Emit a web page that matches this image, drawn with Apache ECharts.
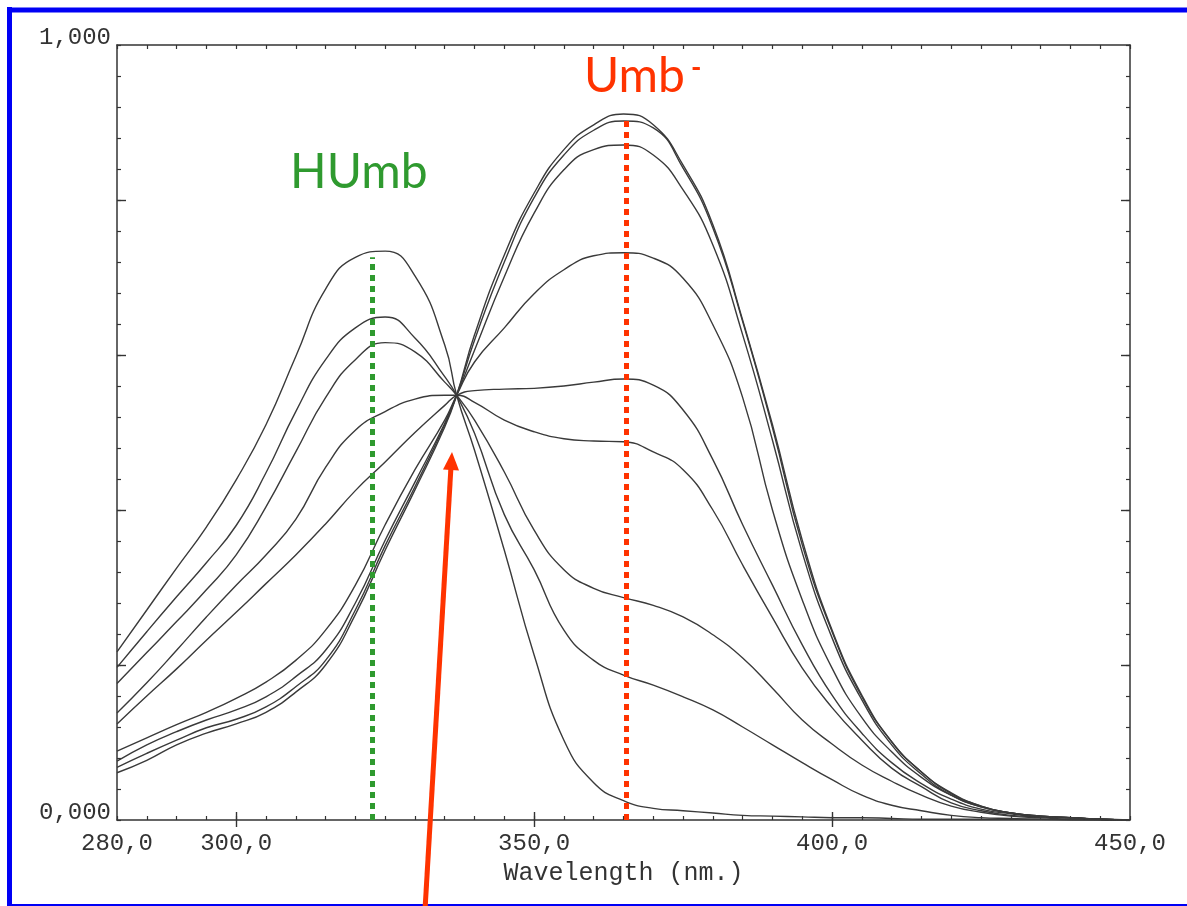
<!DOCTYPE html>
<html>
<head>
<meta charset="utf-8">
<title>Umbelliferone spectra</title>
<script src="https://cdn.jsdelivr.net/npm/echarts@6/dist/echarts.min.js"></script>
<style>
  html, body { margin: 0; padding: 0; background: #fff; }
  #chart { width: 1187px; height: 906px; }
</style>
</head>
<body>
<div id="chart"></div>
<script>
// wavelengths (nm) where the curves were read
const wavelengths = [280, 285, 290, 295, 300, 305, 310, 315, 320, 325, 330, 335, 337, 340, 345, 350, 355, 360, 365, 370, 375, 380, 385, 390, 395, 400, 405, 410, 415, 420, 425, 430, 435, 440, 445, 450]

// absorbance of each spectrum, from acid (HUmb) to basic (Umb-)
const spec1 = [0.217, 0.271, 0.325, 0.378, 0.439, 0.510, 0.598, 0.685, 0.726, 0.734, 0.702, 0.613, 0.548, 0.477, 0.348, 0.213, 0.103, 0.048, 0.025, 0.015, 0.012, 0.009, 0.006, 0.005, 0.004, 0.003, 0.003, 0.002, 0.001, 0.001, 0.001, 0.001, 0.001, 0.000, 0.000, 0.000]
const spec2 = [0.197, 0.243, 0.288, 0.332, 0.380, 0.448, 0.527, 0.594, 0.635, 0.649, 0.622, 0.572, 0.548, 0.499, 0.394, 0.323, 0.245, 0.206, 0.187, 0.174, 0.159, 0.142, 0.120, 0.097, 0.074, 0.052, 0.032, 0.019, 0.012, 0.006, 0.003, 0.002, 0.001, 0.001, 0.000, 0.000]
const spec3 = [0.176, 0.216, 0.256, 0.297, 0.342, 0.404, 0.475, 0.545, 0.594, 0.616, 0.604, 0.565, 0.548, 0.516, 0.449, 0.374, 0.323, 0.299, 0.287, 0.277, 0.262, 0.239, 0.209, 0.170, 0.129, 0.098, 0.071, 0.050, 0.032, 0.018, 0.010, 0.005, 0.003, 0.001, 0.001, 0.000]
const spec4 = [0.138, 0.177, 0.219, 0.262, 0.303, 0.342, 0.388, 0.455, 0.503, 0.527, 0.543, 0.548, 0.548, 0.539, 0.516, 0.501, 0.492, 0.489, 0.488, 0.475, 0.452, 0.400, 0.329, 0.261, 0.196, 0.145, 0.103, 0.067, 0.043, 0.022, 0.012, 0.006, 0.004, 0.003, 0.001, 0.000]
const spec5 = [0.124, 0.160, 0.195, 0.232, 0.268, 0.305, 0.342, 0.382, 0.425, 0.462, 0.500, 0.535, 0.548, 0.554, 0.556, 0.557, 0.560, 0.565, 0.569, 0.561, 0.529, 0.465, 0.381, 0.303, 0.226, 0.161, 0.112, 0.074, 0.047, 0.027, 0.014, 0.008, 0.004, 0.003, 0.001, 0.000]
const spec6 = [0.089, 0.106, 0.123, 0.139, 0.157, 0.178, 0.206, 0.245, 0.303, 0.381, 0.452, 0.516, 0.548, 0.591, 0.635, 0.679, 0.710, 0.728, 0.732, 0.725, 0.699, 0.639, 0.545, 0.400, 0.284, 0.196, 0.132, 0.088, 0.055, 0.032, 0.017, 0.009, 0.005, 0.003, 0.001, 0.000]
const spec7 = [0.076, 0.097, 0.114, 0.129, 0.142, 0.159, 0.185, 0.219, 0.280, 0.361, 0.436, 0.512, 0.548, 0.606, 0.701, 0.783, 0.839, 0.865, 0.871, 0.858, 0.813, 0.742, 0.626, 0.490, 0.345, 0.235, 0.155, 0.097, 0.059, 0.032, 0.017, 0.009, 0.005, 0.003, 0.001, 0.000]
const spec8 = [0.068, 0.086, 0.103, 0.119, 0.130, 0.146, 0.172, 0.206, 0.271, 0.354, 0.430, 0.510, 0.548, 0.619, 0.720, 0.803, 0.858, 0.890, 0.902, 0.893, 0.841, 0.764, 0.643, 0.506, 0.355, 0.243, 0.159, 0.101, 0.062, 0.034, 0.018, 0.009, 0.005, 0.003, 0.001, 0.000]
const spec9 = [0.061, 0.077, 0.097, 0.112, 0.124, 0.139, 0.165, 0.200, 0.265, 0.348, 0.426, 0.507, 0.548, 0.626, 0.729, 0.809, 0.865, 0.897, 0.911, 0.897, 0.845, 0.768, 0.645, 0.510, 0.361, 0.245, 0.161, 0.101, 0.062, 0.035, 0.018, 0.009, 0.005, 0.003, 0.001, 0.000]

const spectra = [spec1, spec2, spec3, spec4, spec5, spec6, spec7, spec8, spec9]

// tick labels
const xLabels = [280, 300, 350, 400, 450]
const xMajor = [300, 350, 400]
const yLabels = [0, 1]
const yMajor = [0.2, 0.4, 0.6, 0.8]

// marker lines: [wavelength, top absorbance]
const humbLine = [322.8, 0.726]
const umbLine = [365.5, 0.907]

const axisColor = '#333'
const mono = "'Liberation Mono', 'DejaVu Sans Mono', monospace"

const chart = echarts.init(document.getElementById('chart'), null, { renderer: 'canvas' })

const xBase = {
  type: 'value',
  min: 280,
  max: 450,
  interval: 5,
  splitLine: { show: false },
  axisLine: { show: true, onZero: false, lineStyle: { color: axisColor, width: 1.5 } },
  axisTick: { show: true, inside: true, length: 4, lineStyle: { color: axisColor, width: 1.2 } },
  axisLabel: { show: false }
}
const yBase = {
  type: 'value',
  min: 0,
  max: 1,
  interval: 0.04,
  splitLine: { show: false },
  axisLine: { show: true, onZero: false, lineStyle: { color: axisColor, width: 1.5 } },
  axisTick: { show: true, inside: true, length: 4, lineStyle: { color: axisColor, width: 1.2 } },
  axisLabel: { show: false }
}

const series = spectra.map((vals, i) => ({
  name: 'spectrum ' + (i + 1),
  type: 'line',
  xAxisIndex: 0,
  yAxisIndex: 0,
  data: wavelengths.map((w, j) => [w, vals[j]]),
  showSymbol: false,
  smooth: 0.5,
  lineStyle: { color: '#3a3a3a', width: 1.4 },
  z: 3
}))

// dotted marker lines for the two absorption maxima
series[0].markLine = {
  silent: true,
  symbol: ['none', 'none'],
  label: { show: false },
  z: 5,
  data: [
    [
      { coord: [humbLine[0], 0], lineStyle: { color: '#2f9a2f', width: 5, type: [6, 5] } },
      { coord: [humbLine[0], humbLine[1]] }
    ],
    [
      { coord: [umbLine[0], 0], lineStyle: { color: '#ff3300', width: 5, type: [6, 5] } },
      { coord: [umbLine[0], umbLine[1]] }
    ]
  ]
}

const option = {
  animation: false,
  backgroundColor: '#fff',
  grid: { left: 117, top: 45, width: 1013, height: 775 },
  xAxis: [
    Object.assign({}, xBase, {
      position: 'bottom',
      name: 'Wavelength (nm.)',
      nameLocation: 'middle',
      nameGap: 26,
      nameTextStyle: { fontFamily: mono, fontSize: 25, color: '#333' },
      axisLabel: {
        show: true,
        customValues: xLabels,
        margin: 12,
        fontFamily: mono,
        fontSize: 24,
        color: '#333',
        formatter: v => v.toFixed(1).replace('.', ',')
      }
    }),
    Object.assign({}, xBase, { position: 'top' }),
    Object.assign({}, xBase, {
      position: 'bottom',
      axisLine: { show: false },
      axisTick: { show: true, inside: true, length: 8, customValues: xMajor, lineStyle: { color: axisColor, width: 1.4 } }
    }),
    Object.assign({}, xBase, {
      position: 'top',
      axisLine: { show: false },
      axisTick: { show: true, inside: true, length: 7, customValues: xMajor, lineStyle: { color: axisColor, width: 1.4 } }
    })
  ],
  yAxis: [
    Object.assign({}, yBase, {
      position: 'left',
      axisLabel: {
        show: true,
        customValues: yLabels,
        margin: 6,
        verticalAlign: 'bottom',
        lineHeight: 14,
        fontFamily: mono,
        fontSize: 24,
        color: '#333',
        formatter: v => v.toFixed(3).replace('.', ',')
      }
    }),
    Object.assign({}, yBase, { position: 'right' }),
    Object.assign({}, yBase, {
      position: 'left',
      axisLine: { show: false },
      axisTick: { show: true, inside: true, length: 9, customValues: yMajor, lineStyle: { color: axisColor, width: 1.4 } }
    }),
    Object.assign({}, yBase, {
      position: 'right',
      axisLine: { show: false },
      axisTick: { show: true, inside: true, length: 9, customValues: yMajor, lineStyle: { color: axisColor, width: 1.4 } }
    })
  ],
  graphic: [
    // blue frame
    { type: 'line', shape: { x1: 9.5, y1: 7, x2: 9.5, y2: 906 }, style: { stroke: '#0000f5', lineWidth: 5 } },
    { type: 'line', shape: { x1: 7, y1: 10, x2: 1187, y2: 10 }, style: { stroke: '#0000f5', lineWidth: 5 } },
    { type: 'line', shape: { x1: 7, y1: 905, x2: 1187, y2: 905 }, style: { stroke: '#0000f5', lineWidth: 2 } },
    // labels
    {
      type: 'text', left: 290, top: 149, z: 10,
      style: { text: 'HUmb', fill: '#2f9a2f', font: "48px 'Lato', 'Noto Sans', sans-serif" }
    },
    {
      type: 'text', left: 584, top: 53, z: 10,
      style: { text: 'Umb', fill: '#ff3300', font: "48px 'Lato', 'Noto Sans', sans-serif" }
    },
    {
      type: 'text', left: 691, top: 54, z: 10,
      style: { text: '-', fill: '#ff3300', font: "bold 28px 'Lato', 'Noto Sans', sans-serif" }
    },
    // arrow to the isosbestic point
    { type: 'line', z: 10, shape: { x1: 425, y1: 910, x2: 450.9, y2: 468 }, style: { stroke: '#ff3300', lineWidth: 5 } },
    { type: 'polygon', z: 10, shape: { points: [[452, 452], [459, 470.5], [443, 469.5]] }, style: { fill: '#ff3300' } }
  ],
  series: series
}

chart.setOption(option)
</script>
</body>
</html>
